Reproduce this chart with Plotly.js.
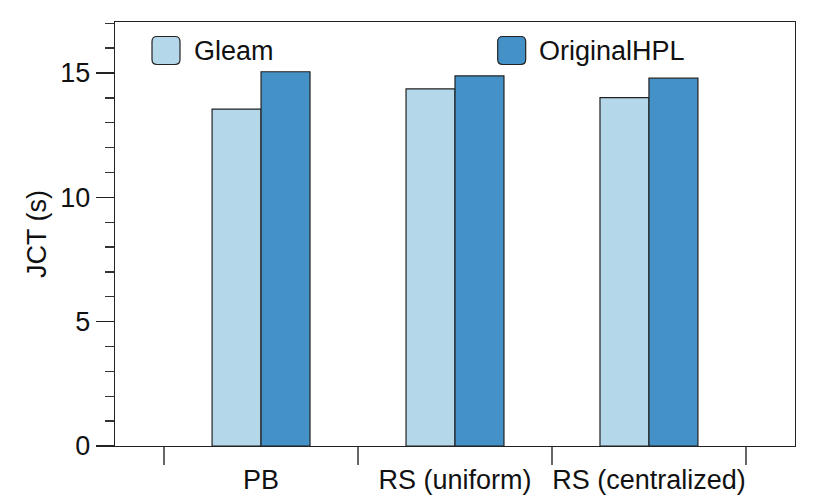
<!DOCTYPE html>
<html>
<head>
<meta charset="utf-8">
<script src="https://cdn.plot.ly/plotly-3.0.1.min.js"></script>
<style>html,body{margin:0;padding:0;background:#fff;}#chart{width:830px;height:498px;}</style>
</head>
<body>
<div id="chart"></div>
<script>
const categories = ["PB", "RS (uniform)", "RS (centralized)"];
const gleam = [13.55, 14.36, 14.01];
const originalHPL = [15.05, 14.88, 14.79];
const seriesNames = ["Gleam", "OriginalHPL"];
const colors = ["#b4d7ea", "#4391c6"];

const FONT = "Liberation Sans, Arial, Helvetica, sans-serif";
const FS = 27;
const W = 830, H = 498;
const M = {l: 115, r: 35, t: 22, b: 52};
const pw = W - M.l - M.r, ph = H - M.t - M.b;
const px = x => (x - M.l) / pw;
const py = y => (H - M.b - y) / ph;

const traces = [gleam, originalHPL].map((vals, i) => ({
  type: "bar",
  name: seriesNames[i],
  x: categories,
  y: vals,
  marker: {color: colors[i], line: {color: "#222", width: 1.2}},
  showlegend: false,
  hoverinfo: "x+y+name"
}));

function roundedBox(cx, cy, color) {
  const s = 14, r = 5;
  const path = `M ${-s + r},${-s} L ${s - r},${-s} Q ${s},${-s} ${s},${-s + r} L ${s},${s - r} Q ${s},${s} ${s - r},${s} L ${-s + r},${s} Q ${-s},${s} ${-s},${s - r} L ${-s},${-s + r} Q ${-s},${-s} ${-s + r},${-s} Z`;
  return {
    type: "path", xref: "paper", yref: "paper",
    xsizemode: "pixel", ysizemode: "pixel",
    xanchor: px(cx), yanchor: py(cy),
    path: path,
    fillcolor: color, line: {color: "#222", width: 1.2}
  };
}

const layout = {
  width: W, height: H,
  margin: M,
  paper_bgcolor: "#fff", plot_bgcolor: "#fff",
  font: {family: FONT, size: FS, color: "#111"},
  barmode: "group",
  bargap: 0.495,
  bargroupgap: 0,
  xaxis: {
    type: "category",
    range: [-0.753, 2.753],
    tickson: "boundaries",
    tickangle: 0,
    ticklabelstandoff: 9,
    ticks: "outside", ticklen: 18, tickwidth: 1.5, tickcolor: "#666",
    showline: true, linecolor: "#222", linewidth: 1.3, mirror: true,
    showgrid: false, zeroline: false,
    tickfont: {family: FONT, size: FS, color: "#111"}
  },
  yaxis: {
    range: [0, 17.05],
    tickmode: "linear", tick0: 0, dtick: 5,
    ticks: "outside", ticklen: 18, tickwidth: 1.3, tickcolor: "#222",
    minor: {dtick: 1, ticks: "outside", ticklen: 9, tickwidth: 1.3, tickcolor: "#333", showgrid: false},
    showline: true, linecolor: "#222", linewidth: 1.3, mirror: true,
    showgrid: false, zeroline: false,
    tickfont: {family: FONT, size: FS, color: "#111"},
    title: {text: "JCT (s)", font: {family: FONT, size: FS, color: "#111"}, standoff: 5}
  },
  shapes: [roundedBox(166, 50.5, colors[0]), roundedBox(511.7, 50.5, colors[1])],
  annotations: [
    {xref: "paper", yref: "paper", x: px(192), y: py(50.5), xanchor: "left", yanchor: "middle",
     text: seriesNames[0], showarrow: false, font: {family: FONT, size: FS, color: "#111"}},
    {xref: "paper", yref: "paper", x: px(537), y: py(50.5), xanchor: "left", yanchor: "middle",
     text: seriesNames[1], showarrow: false, font: {family: FONT, size: FS, color: "#111"}}
  ]
};

Plotly.newPlot("chart", traces, layout, {displayModeBar: false, staticPlot: true});
</script>
</body>
</html>
